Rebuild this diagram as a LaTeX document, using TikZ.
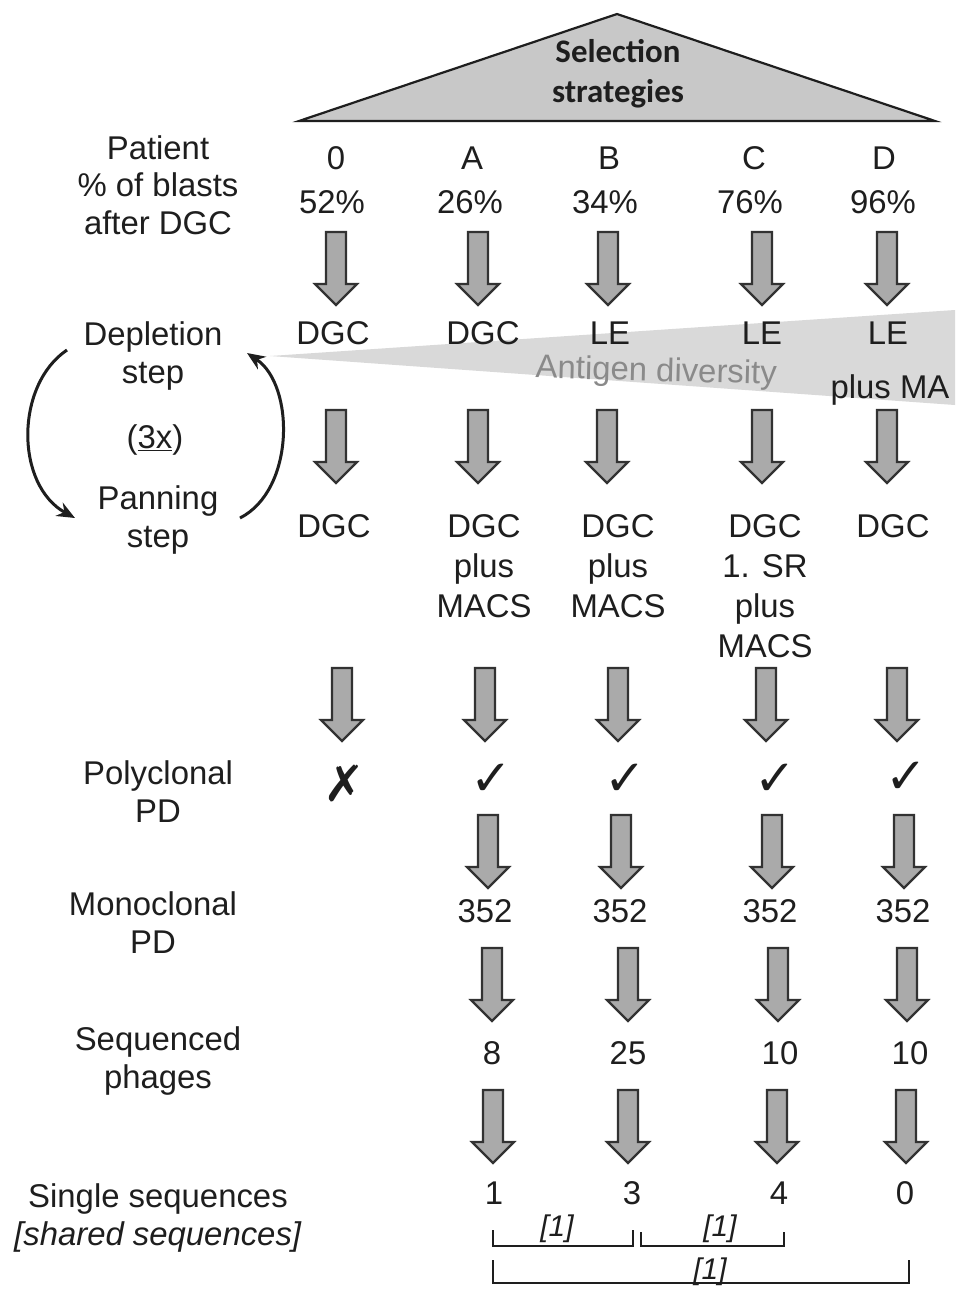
\documentclass[tikz,border=0pt]{standalone}
\usepackage{fontspec}
\setmainfont{Liberation Sans}
\newfontfamily\calfont{Carlito}
\newfontfamily\symfont{DejaVu Sans}
\usetikzlibrary{arrows.meta}
\definecolor{ink}{RGB}{30,30,30}
\definecolor{arrfill}{RGB}{170,170,170}
\definecolor{arrline}{RGB}{50,50,50}
\definecolor{trifill}{RGB}{200,200,200}
\definecolor{wedgefill}{RGB}{217,217,217}
\definecolor{antcol}{RGB}{138,138,138}
\begin{document}
\begin{tikzpicture}[x=1bp,y=-1bp,
  txt/.style={font=\fontsize{33}{40}\selectfont, text=ink, inner sep=0pt, align=center, anchor=base},
  lab/.style={txt, font=\fontsize{33}{37.5}\selectfont},
  blockarr/.style={draw=arrline, fill=arrfill, line width=2.2bp, line join=miter},
  cyc/.style={draw=ink, line width=3bp, -{Stealth[length=18bp,width=15bp]}},
  brk/.style={draw=ink, line width=2.2bp},
  brklab/.style={font=\itshape\fontsize{30}{36}\selectfont, text=ink, inner sep=0pt, anchor=base},
  tickmark/.style={font=\symfont\fontsize{50}{50}\selectfont, text=ink, inner sep=0pt},
  darr/.pic={\path[blockarr] (-10,0) -- (10,0) -- (10,52) -- (21,52) -- (0,73) -- (-21,52) -- (-10,52) -- cycle;}
]
\useasboundingbox (0,0) rectangle (969,1298);
\fill[white] (0,0) rectangle (969,1298);

% header triangle
\draw[fill=trifill, draw=ink, line width=2.2bp, line join=miter] (617,14) -- (935,121) -- (299,121) -- cycle;
\node[font=\calfont\bfseries\fontsize{33}{40}\selectfont, text=ink, inner sep=0pt, align=center, anchor=base] (sel) at (618,102) {Selection\\strategies};

% antigen diversity wedge
\fill[wedgefill] (270,356) -- (955,310) -- (955,405) -- cycle;
\node[txt, text=antcol, rotate=-1.5] (ant) at (656,381) {Antigen diversity};

% left labels (anchor = baseline of last line)
\node[lab] (pat) at (158,234) {Patient\\\% of blasts\\after DGC};
\node[lab] (dep) at (153,383) {Depletion\\step};
\node[lab] (rep) at (155,448) {(\underline{3x})};
\node[lab] (pan) at (158,547) {Panning\\step};
\node[lab] (poly) at (158,822) {Polyclonal\\PD};
\node[lab] (mono) at (153,953) {Monoclonal\\PD};
\node[lab] (seq) at (158,1088) {Sequenced\\phages};
\node[lab] (sing) at (158,1245) {Single sequences\\\textit{[shared sequences]}};

% cycle arrows
\coordinate (c1s) at (67,350);
\coordinate (c1e) at (75,518);
\coordinate (c2s) at (240,518);
\coordinate (c2e) at (247,353);
\draw[cyc] (c1s) .. controls (15,385) and (15,485) .. (c1e);
\draw[cyc] (c2s) .. controls (295,490) and (295,385) .. (c2e);

% header row
\node[txt] (h0) at (336,169) {0};
\node[txt] (hA) at (472,169) {A};
\node[txt] (hB) at (609,169) {B};
\node[txt] (hC) at (754,169) {C};
\node[txt] (hD) at (884,169) {D};
\node[txt] (p0) at (332,213) {52\%};
\node[txt] (pA) at (470,213) {26\%};
\node[txt] (pB) at (605,213) {34\%};
\node[txt] (pC) at (750,213) {76\%};
\node[txt] (pD) at (883,213) {96\%};

% arrows row 1
\foreach \x in {336,478,608,762,887} \pic at (\x,232) {darr};

% depletion row
\node[txt] (d0) at (333,344) {DGC};
\node[txt] (dA) at (483,344) {DGC};
\node[txt] (dB) at (610,344) {LE};
\node[txt] (dC) at (762,344) {LE};
\node[txt] (dD) at (888,344) {LE};
\node[txt] (dDm) at (890,398) {plus MA};

% arrows row 2
\foreach \x in {336,478,607,762,887} \pic at (\x,410) {darr};

% panning row (anchor = baseline of last line)
\node[txt] (q0) at (334,537) {DGC};
\node[txt] (qA) at (484,617) {DGC\\plus\\MACS};
\node[txt] (qB) at (618,617) {DGC\\plus\\MACS};
\node[txt] (qC) at (765,657) {DGC\\1. SR\\plus\\MACS};
\node[txt] (qD) at (893,537) {DGC};

% arrows row 3
\foreach \x in {342,485,618,766,897} \pic at (\x,668) {darr};

% polyclonal PD
\node[tickmark] (k0) at (344,783) {✗};
\node[tickmark] (kA) at (491,780) {✓};
\node[tickmark] (kB) at (625,780) {✓};
\node[tickmark] (kC) at (775,780) {✓};
\node[tickmark] (kD) at (906,778) {✓};

% arrows row 4
\foreach \x in {488,621,772,904} \pic at (\x,815) {darr};

% monoclonal PD
\node[txt] (mA) at (485,922) {352};
\node[txt] (mB) at (620,922) {352};
\node[txt] (mC) at (770,922) {352};
\node[txt] (mD) at (903,922) {352};

% arrows row 5
\foreach \x in {492,628,778,907} \pic at (\x,948) {darr};

% sequenced phages
\node[txt] (sA) at (492,1064) {8};
\node[txt] (sB) at (628,1064) {25};
\node[txt] (sC) at (780,1064) {10};
\node[txt] (sD) at (910,1064) {10};

% arrows row 6
\foreach \x in {493,628,777,906} \pic at (\x,1090) {darr};

% single sequences
\node[txt] (uA) at (494,1204) {1};
\node[txt] (uB) at (632,1204) {3};
\node[txt] (uC) at (779,1204) {4};
\node[txt] (uD) at (905,1204) {0};

% shared-sequence brackets
\draw[brk] (493,1230) -- (493,1246) -- (633,1246) -- (633,1230);
\draw[brk] (641,1232) -- (641,1246) -- (784,1246) -- (784,1232);
\draw[brk] (493,1260) -- (493,1283) -- (909,1283) -- (909,1260);
\node[brklab] (b1) at (557,1236) {[1]};
\node[brklab] (b2) at (720,1236) {[1]};
\node[brklab] (b3) at (710,1279) {[1]};
\end{tikzpicture}
\end{document}
